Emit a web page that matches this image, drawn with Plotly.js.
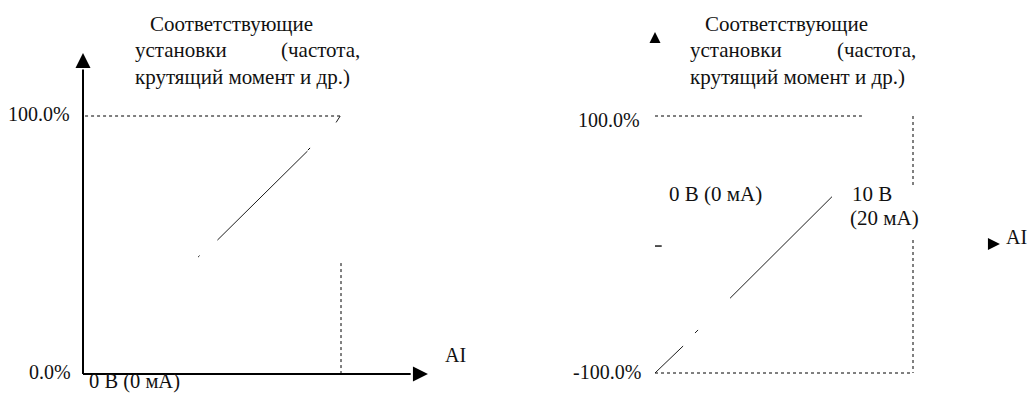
<!DOCTYPE html>
<html>
<head>
<meta charset="utf-8">
<script src="https://cdn.plot.ly/plotly-3.0.1.min.js"></script>
<style>
  html, body { margin: 0; padding: 0; background: #ffffff; }
  #chart { width: 1028px; height: 394px; }
</style>
</head>
<body>
<div id="chart"></div>
<script>
// ---------- data (AI input in V, setting in %) ----------
// Left panel: 0 V .. 10 V  ->  0 % .. 100 %
const leftLineX = [4.46, 4.52, null, 5.21, 8.70, null, 9.81, 9.97];
const leftLineY = [45.3, 45.9, null, 51.9, 86.4, null, 97.5, 100.0];
const leftLineDotX = [8.72, 8.88];
const leftLineDotY = [86.8, 88.4];
const leftGuideTopX = [0.08, 9.96];
const leftGuideTopY = [100, 100];
const leftGuideVertX = [10, 10];
const leftGuideVertY = [43, 0];
const leftAxisYX = [0, 0];
const leftAxisYY = [0, 118];
const leftAxisXX = [0, 12.7];
const leftAxisXY = [0, 0];

// Right panel: 0 V .. 10 V  ->  -100 % .. 100 %
const rightLineX = [0.0, 1.09, null, 1.55, 1.67, null, 2.91, 6.86];
const rightLineY = [-100, -79, null, -68.9, -66.5, null, -41.8, 37.2];
const rightGuideTopX = [0, 8.02];
const rightGuideTopY = [100, 100];
const rightGuideVertX = [10, 10, null, 10, 10];
const rightGuideVertY = [100, 46.3, null, 3.5, -100];
const rightGuideBotX = [0, 10];
const rightGuideBotY = [-100, -100];
const rightZeroTickX = [0, 0.26];
const rightZeroTickY = [-1.2, -1.2];

// tick / axis labels
const titleLine1 = 'Соответствующие';
const titleLine2a = 'установки';
const titleLine2b = '(частота,';
const titleLine3 = 'крутящий момент и др.)';
const leftTickLabels = ['100.0%', '0.0%'];
const leftTickValues = [100, 0];
const rightTickLabels = ['100.0%', '-100.0%'];
const rightTickValues = [100, -100];
const zeroLabel = '0 В (0 мА)';
const tenLabel = '10 В';
const tenMaLabel = '(20 мА)';
const axisName = 'AI';

// ---------- drawing ----------
const ink = '#111111';
const lineInk = '#1c1c1c';
const serif = 'Liberation Serif, Times New Roman, serif';

function seg(x, y, axes, opts) {
  return Object.assign({
    type: 'scatter', mode: 'lines', x: x, y: y,
    xaxis: axes[0], yaxis: axes[1],
    line: { color: lineInk, width: 1 },
    hoverinfo: 'skip', showlegend: false, connectgaps: false
  }, opts || {});
}
function arrow(x, y, sym, size, axes) {
  return {
    type: 'scatter', mode: 'markers', x: [x], y: [y],
    xaxis: axes[0], yaxis: axes[1],
    marker: { symbol: sym, size: size, color: '#000', line: { width: 0 } },
    hoverinfo: 'skip', showlegend: false, cliponaxis: false
  };
}
const L = ['x', 'y'], R = ['x2', 'y2'];
const dotted = { color: '#000', width: 1, dash: 'dot' };

const traces = [
  // left panel
  seg(leftAxisYX, leftAxisYY, L, { line: { color: '#000', width: 2 } }),
  seg(leftAxisXX, leftAxisXY, L, { line: { color: '#000', width: 2 } }),
  arrow(0, 124.4, 'arrow-up', 15, L),
  arrow(13.37, 0, 'arrow-right', 15, L),
  seg(leftGuideTopX, leftGuideTopY, L, { line: dotted }),
  seg(leftGuideVertX, leftGuideVertY, L, { line: dotted }),
  seg(leftLineX, leftLineY, L),
  seg(leftLineDotX, leftLineDotY, L, { line: dotted }),
  // right panel
  arrow(0, 165.4, 'arrow-up', 11, R),
  arrow(13.37, 0.4, 'arrow-right', 12, R),
  seg(rightGuideTopX, rightGuideTopY, R, { line: dotted }),
  seg(rightGuideVertX, rightGuideVertY, R, { line: dotted }),
  seg(rightGuideBotX, rightGuideBotY, R, { line: dotted }),
  seg(rightZeroTickX, rightZeroTickY, R, { line: { color: lineInk, width: 1.5 } }),
  seg(rightLineX, rightLineY, R)
];

function txt(text, x, y, axes, xanchor, size) {
  return {
    text: text, x: x, y: y, xref: axes[0], yref: axes[1],
    xanchor: xanchor, yanchor: 'middle', showarrow: false,
    font: { family: serif, size: size || 21, color: ink }
  };
}

const annotations = [
  // left titles
  txt(titleLine1, 2.53, 135.6, L, 'left'),
  txt(titleLine2a, 1.95, 125.4, L, 'left'),
  txt(titleLine2b, 10.8, 125.4, L, 'right'),
  txt(titleLine3, 1.95, 115.1, L, 'left'),
  txt(leftTickLabels[0], -0.43, leftTickValues[0] + 0.6, L, 'right', 20),
  txt(leftTickLabels[1], -0.39, leftTickValues[1] + 0.6, L, 'right', 20),
  txt(zeroLabel, 0.16, -3.0, L, 'left', 20.5),
  txt(axisName, 13.97, 7.4, L, 'left', 20),
  // right titles
  txt(titleLine1, 1.87, 171.6, R, 'left'),
  txt(titleLine2a, 1.29, 151.0, R, 'left'),
  txt(titleLine2b, 10.2, 151.0, R, 'right'),
  txt(titleLine3, 1.29, 130.4, R, 'left'),
  txt(rightTickLabels[0], -0.5, rightTickValues[0] - 3.1, R, 'right', 20),
  txt(rightTickLabels[1], -0.47, rightTickValues[1] + 0.8, R, 'right', 20),
  txt(zeroLabel, 0.47, 39.3, R, 'left'),
  txt(tenLabel, 7.56, 39.3, R, 'left'),
  txt(tenMaLabel, 7.48, 20.6, R, 'left'),
  txt(axisName, 13.52, 5.8, R, 'left', 20)
];

const hidden = { visible: false, fixedrange: true, showgrid: false, zeroline: false };

const layout = {
  width: 1028, height: 394,
  margin: { l: 0, r: 0, t: 0, b: 0, pad: 0 },
  paper_bgcolor: '#ffffff', plot_bgcolor: '#ffffff',
  showlegend: false,
  xaxis: Object.assign({ domain: [0, 0.5], range: [-3.217, 16.705], anchor: 'y' }, hidden),
  yaxis: Object.assign({ domain: [0, 1], range: [-7.752, 144.96], anchor: 'x' }, hidden),
  xaxis2: Object.assign({ domain: [0.5, 1], range: [-5.465, 14.457], anchor: 'y2' }, hidden),
  yaxis2: Object.assign({ domain: [0, 1], range: [-116.34, 190.27], anchor: 'x2' }, hidden),
  annotations: annotations
};

Plotly.newPlot('chart', traces, layout, { staticPlot: true, displayModeBar: false });
</script>
</body>
</html>
